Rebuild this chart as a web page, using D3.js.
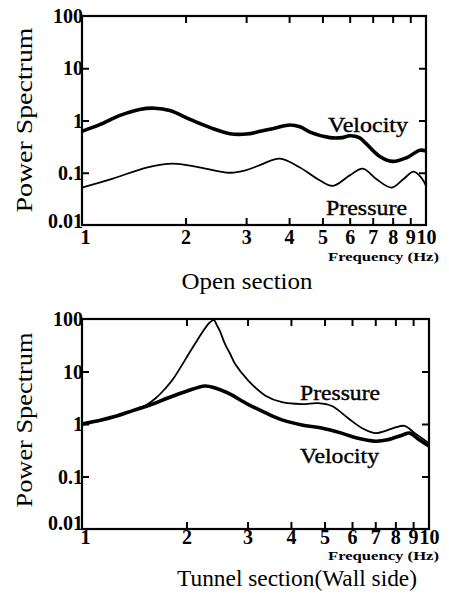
<!DOCTYPE html>
<html>
<head>
<meta charset="utf-8">
<script src="https://cdn.jsdelivr.net/npm/d3@7"></script>
<style>
  html, body { margin: 0; padding: 0; background: #fff; }
  svg { display: block; }
  text { font-family: "Liberation Serif", "Times New Roman", Tinos, Times, serif; fill: #000; }
</style>
</head>
<body>
<svg id="chart" width="449" height="594"></svg>
<script>
// ---------- data ----------
const xTicks = [1, 2, 3, 4, 5, 6, 7, 8, 9, 10];
const xTickLabels = ["1", "2", "3", "4", "5", "6", "7", "8", "9", "10"];
const yTicks = [0.01, 0.1, 1, 10, 100];
const yTickLabels = ["0.01", "0.1", "1", "10", "100"];
const minorTicks = [2, 3, 4, 5, 6, 7, 8, 9];

// Open section
const openVelFreq = [1, 1.13, 1.29, 1.47, 1.63, 1.80, 2.06, 2.36, 2.69, 3.0, 3.3, 3.65, 4.02, 4.3, 4.6, 5.26, 5.7, 6.0, 6.4, 6.7, 7.3, 8.0, 8.8, 9.6, 10];
const openVelocity = [0.62, 0.84, 1.25, 1.63, 1.72, 1.55, 1.05, 0.73, 0.56, 0.55, 0.62, 0.72, 0.82, 0.76, 0.60, 0.47, 0.47, 0.51, 0.47, 0.36, 0.21, 0.165, 0.195, 0.27, 0.26];
const openPresFreq = [1, 1.23, 1.54, 1.84, 2.16, 2.69, 3.0, 3.29, 3.76, 4.3, 4.92, 5.36, 6.0, 6.55, 7.2, 7.95, 8.57, 9.2, 9.7, 10];
const openPressure = [0.052, 0.077, 0.126, 0.15, 0.13, 0.10, 0.112, 0.14, 0.187, 0.126, 0.071, 0.056, 0.089, 0.12, 0.074, 0.052, 0.074, 0.105, 0.08, 0.056];

// Tunnel section (wall side)
const tunVelFreq = [1, 1.13, 1.25, 1.4, 1.57, 1.76, 2.0, 2.26, 2.42, 2.63, 3.0, 3.37, 3.77, 4.3, 4.9, 5.6, 6.2, 7.0, 7.6, 8.4, 8.8, 9.3, 10];
const tunVelocity = [1.0, 1.18, 1.4, 1.8, 2.3, 3.1, 4.2, 5.3, 4.85, 3.9, 2.4, 1.65, 1.2, 0.96, 0.84, 0.67, 0.54, 0.47, 0.50, 0.62, 0.67, 0.52, 0.38];
const tunPresFreq = [1, 1.13, 1.25, 1.4, 1.54, 1.64, 1.73, 1.83, 2.05, 2.23, 2.33, 2.40, 2.45, 2.50, 2.58, 2.67, 2.76, 3.01, 3.37, 3.77, 4.3, 4.79, 5.25, 5.84, 6.4, 7.0, 7.5, 8.0, 8.5, 9.1, 10];
const tunPressure = [1.0, 1.18, 1.4, 1.82, 2.35, 3.2, 4.6, 7.2, 24, 58, 85, 95, 75, 58, 34, 22, 14, 6.8, 3.5, 2.6, 2.4, 2.5, 2.2, 1.3, 0.84, 0.67, 0.74, 0.86, 0.92, 0.67, 0.43];

// ---------- drawing ----------
const svg = d3.select("#chart");
const SERIF = '"Liberation Serif", "Times New Roman", Tinos, Times, serif';

function panel(cfg) {
  const x = d3.scaleLog().domain([1, 10]).range([cfg.left, cfg.right]);
  const y = d3.scaleLog().domain([0.01, 100]).range([cfg.bottom, cfg.top]);
  const g = svg.append("g");

  const bx = g.append("g").attr("transform", `translate(0,${cfg.bottom})`)
    .call(d3.axisBottom(x).tickValues(xTicks).tickSize(-7).tickPadding(cfg.xPad)
      .tickFormat((d, i) => xTickLabels[i]));
  const tx = g.append("g").attr("transform", `translate(0,${cfg.top})`)
    .call(d3.axisTop(x).tickValues(minorTicks).tickSize(-7).tickFormat(""));
  const ly = g.append("g").attr("transform", `translate(${cfg.left},0)`)
    .call(d3.axisLeft(y).tickValues(yTicks).tickSize(-7).tickPadding(-1)
      .tickFormat((d, i) => yTickLabels[i]));
  const ry = g.append("g").attr("transform", `translate(${cfg.right},0)`)
    .call(d3.axisRight(y).tickValues([0.1, 1, 10]).tickSize(-7).tickFormat(""));

  [bx, tx, ly, ry].forEach(a => {
    a.attr("font-family", SERIF);
    a.select(".domain").remove();
    a.selectAll(".tick line").attr("stroke", "#000").attr("stroke-width", 2);
  });
  bx.selectAll(".tick").filter(d => d === 1 || d === 10).select("line").remove();
  ly.selectAll(".tick").filter(d => d === 0.01 || d === 100).select("line").remove();
  [bx, ly].forEach(a => a.selectAll(".tick text")
    .style("font-family", SERIF)
    .style("font-weight", "bold").style("font-size", "20px").attr("fill", "#000"));
  ly.selectAll(".tick text").attr("dy", "0.33em");
  // the lowest y label sits a little higher so it clears the "1" below it
  ly.selectAll(".tick").filter(d => d === 0.01).select("text").attr("dy", cfg.lowDy);
  bx.selectAll(".tick").filter(d => d === 1).select("text").attr("x", 3);

  g.append("rect").attr("x", cfg.left).attr("y", cfg.top)
    .attr("width", cfg.right - cfg.left).attr("height", cfg.bottom - cfg.top)
    .attr("fill", "none").attr("stroke", "#000").attr("stroke-width", 2.2);

  const line = d3.line().x(d => x(d[0])).y(d => y(d[1]))
    .curve(d3.curveCatmullRom.alpha(0.5));

  cfg.series.forEach(s => {
    const pts = s.freq.map((f, i) => [f, s.values[i]]);
    g.append("path").datum(pts).attr("d", line)
      .attr("fill", "none").attr("stroke", "#000")
      .attr("stroke-width", s.width).attr("stroke-linejoin", "round");
  });

  cfg.labels.forEach(l => {
    g.append("text").attr("x", l.x).attr("y", l.y).text(l.text)
      .attr("textLength", l.len).attr("lengthAdjust", "spacingAndGlyphs")
      .style("font-size", "22px").attr("stroke", "#000").attr("stroke-width", 0.4);
  });

  g.append("text").attr("x", 328).attr("y", cfg.freqY).text("Frequency (Hz)")
    .attr("textLength", 111).attr("lengthAdjust", "spacingAndGlyphs")
    .style("font-size", "13px").style("font-weight", "bold");

  g.append("text").attr("transform", `translate(32,${cfg.yTitleC}) rotate(-90)`)
    .attr("text-anchor", "middle").text("Power Spectrum")
    .attr("textLength", cfg.yTitleLen).attr("lengthAdjust", "spacingAndGlyphs")
    .style("font-size", "24px");

  g.append("text").attr("x", cfg.titleX).attr("y", cfg.titleY)
    .attr("text-anchor", "middle").text(cfg.title)
    .attr("textLength", cfg.titleLen).attr("lengthAdjust", "spacingAndGlyphs")
    .style("font-size", "24px");
}

panel({
  left: 82, right: 426, top: 16, bottom: 225, xPad: 5, lowDy: "0.12em",
  series: [
    { freq: openVelFreq, values: openVelocity, width: 3.6 },
    { freq: openPresFreq, values: openPressure, width: 1.8 }
  ],
  labels: [
    { text: "Velocity", x: 328, y: 132, len: 80 },
    { text: "Pressure", x: 326, y: 215, len: 81 }
  ],
  freqY: 261, yTitleC: 120, yTitleLen: 185,
  title: "Open section", titleX: 247, titleY: 289, titleLen: 131
});

panel({
  left: 82, right: 429, top: 319, bottom: 529, xPad: 1, lowDy: "0.02em",
  series: [
    { freq: tunPresFreq, values: tunPressure, width: 1.8 },
    { freq: tunVelFreq, values: tunVelocity, width: 3.6 }
  ],
  labels: [
    { text: "Pressure", x: 300, y: 400, len: 80 },
    { text: "Velocity", x: 300, y: 463, len: 79 }
  ],
  freqY: 560, yTitleC: 420, yTitleLen: 175,
  title: "Tunnel section(Wall side)", titleX: 297, titleY: 586, titleLen: 240
});
</script>
</body>
</html>
